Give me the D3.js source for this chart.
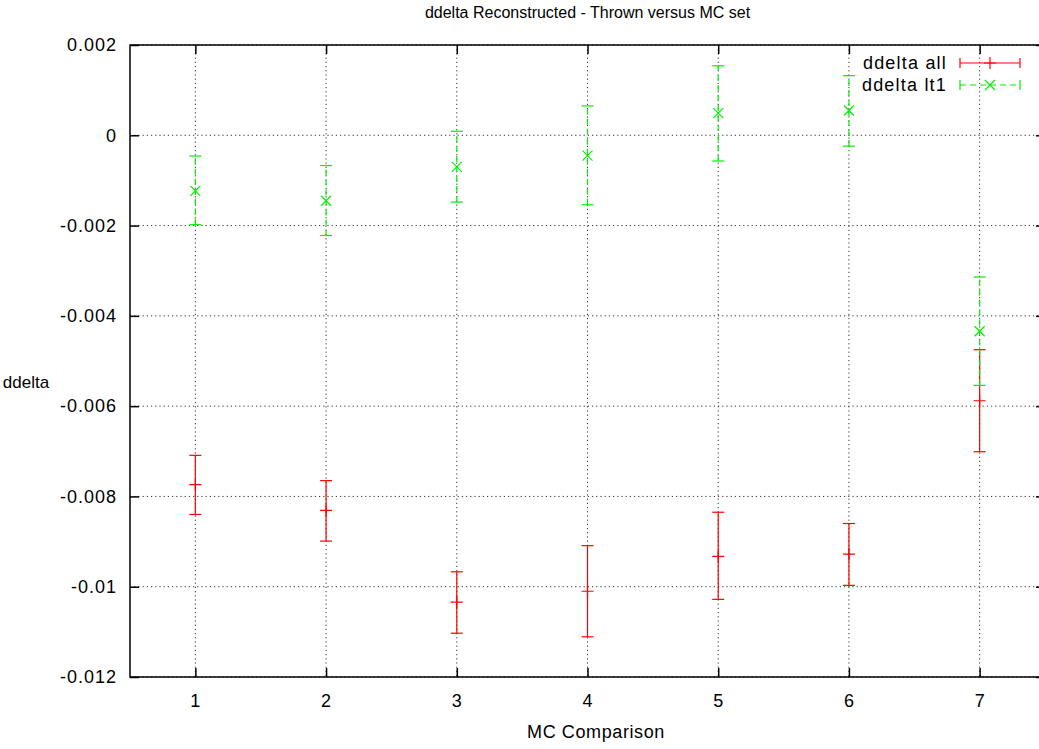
<!DOCTYPE html>
<html lang="en">
<head>
  <meta charset="utf-8">
  <title>ddelta Reconstructed - Thrown versus MC set</title>
  <script src="https://d3js.org/d3.v7.min.js"></script>
  <style>
    body { margin: 0; background: white; }
    text { font-family: "Liberation Sans", Arial, sans-serif; fill: #000; }
  </style>
</head>
<body>
<svg id="chart" width="1039" height="749"></svg>
<script>
  // MC comparison index
  var mcSets = [1, 2, 3, 4, 5, 6, 7];

  // ddelta all: value, low, high
  var allVal  = [-0.00774, -0.00831, -0.01034, -0.01010, -0.00933, -0.00928, -0.00588];
  var allLow  = [-0.00840, -0.00899, -0.01103, -0.01111, -0.01028, -0.00997, -0.00701];
  var allHigh = [-0.00709, -0.00765, -0.00967, -0.00909, -0.00835, -0.00860, -0.00475];

  // ddelta lt1: value, low, high
  var lt1Val  = [-0.00123, -0.00145, -0.00070, -0.00045, 0.00049, 0.00055, -0.00434];
  var lt1Low  = [-0.00198, -0.00222, -0.00148, -0.00154, -0.00057, -0.00024, -0.00554];
  var lt1High = [-0.00046, -0.00067, 0.00009, 0.00065, 0.00154, 0.00132, -0.00314];

  var yTicks = [0.002, 0, -0.002, -0.004, -0.006, -0.008, -0.01, -0.012];

  var svg = d3.select("#chart"),
      pLeft = 130, pRight = 1045, pTop = 45, pBottom = 677;

  var x = d3.scaleLinear().domain([0.5, 7.5]).range([pLeft, pRight]);
  var y = d3.scaleLinear().domain([-0.012, 0.002]).range([pBottom, pTop]);

  // grid
  var grid = svg.append("g")
      .attr("stroke", "#000")
      .attr("stroke-width", 1)
      .attr("stroke-dasharray", "1.2,3")
      .attr("opacity", 0.8);
  grid.selectAll(".gy").data(yTicks).enter().append("line")
      .attr("x1", pLeft).attr("x2", pRight)
      .attr("y1", function(d) { return y(d); })
      .attr("y2", function(d) { return y(d); });
  grid.selectAll(".gx").data(mcSets).enter().append("line")
      .attr("y1", pTop).attr("y2", pBottom)
      .attr("x1", function(d) { return x(d); })
      .attr("x2", function(d) { return x(d); });

  // axes with inward ticks on all four sides
  var fmt = function(d) { return d === 0 ? "0" : String(+d.toFixed(3)); };

  svg.append("g")
      .attr("transform", "translate(" + pLeft + ",0)")
      .call(d3.axisLeft(y).tickValues(yTicks).tickSizeInner(-9).tickSizeOuter(0).tickPadding(13).tickFormat(fmt));
  svg.append("g")
      .attr("transform", "translate(" + pRight + ",0)")
      .call(d3.axisRight(y).tickValues(yTicks).tickSizeInner(-9).tickSizeOuter(0).tickFormat(""));
  svg.append("g")
      .attr("transform", "translate(0," + pBottom + ")")
      .call(d3.axisBottom(x).tickValues(mcSets).tickSizeInner(-9).tickSizeOuter(0).tickPadding(17).tickFormat(d3.format("d")));
  svg.append("g")
      .attr("transform", "translate(0," + pTop + ")")
      .call(d3.axisTop(x).tickValues(mcSets).tickSizeInner(-9).tickSizeOuter(0).tickFormat(""));

  svg.selectAll(".tick text")
      .attr("font-size", "18px")
      .attr("letter-spacing", "1px")
      .attr("font-family", "Liberation Sans, Arial, sans-serif");
  svg.selectAll(".tick line").attr("stroke-width", 1.5);
  svg.selectAll(".domain").remove();

  svg.append("rect")
      .attr("x", pLeft).attr("y", pTop)
      .attr("width", pRight - pLeft).attr("height", pBottom - pTop)
      .attr("fill", "none").attr("stroke", "#000").attr("stroke-width", 1.5);

  // error bars
  function drawSeries(vals, lows, highs, color, dash, marker) {
    var g = svg.append("g").attr("stroke", color).attr("fill", "none").attr("stroke-width", 1.2);
    var rows = mcSets.map(function(m, i) { return { m: m, v: vals[i], lo: lows[i], hi: highs[i] }; });
    var s = g.selectAll("g").data(rows).enter().append("g");
    s.append("line")
        .attr("x1", function(d) { return x(d.m); }).attr("x2", function(d) { return x(d.m); })
        .attr("y1", function(d) { return y(d.lo); }).attr("y2", function(d) { return y(d.hi); })
        .attr("stroke-dasharray", dash);
    ["lo", "hi"].forEach(function(k) {
      s.append("line")
          .attr("x1", function(d) { return x(d.m) - 6; }).attr("x2", function(d) { return x(d.m) + 6; })
          .attr("y1", function(d) { return y(d[k]); }).attr("y2", function(d) { return y(d[k]); });
    });
    s.append("path")
        .attr("transform", function(d) { return "translate(" + x(d.m) + "," + y(d.v) + ")"; })
        .attr("d", marker);
  }
  var plus = "M-6,0H6M0,-6V6";
  var cross = "M-5,-5L5,5M-5,5L5,-5";
  drawSeries(allVal, allLow, allHigh, "#ff0000", null, plus);
  drawSeries(lt1Val, lt1Low, lt1High, "#00f000", "6,4", cross);

  // legend
  var legend = [
    { name: "ddelta all", color: "#ff0000", dash: null, marker: plus, y: 63 },
    { name: "ddelta lt1", color: "#00f000", dash: "6,4", marker: cross, y: 85 }
  ];
  var lg = svg.append("g");
  legend.forEach(function(d) {
    lg.append("text").attr("x", 947).attr("y", d.y + 6).attr("text-anchor", "end")
        .attr("font-size", "18px").attr("letter-spacing", "1.2px").text(d.name);
    var item = lg.append("g").attr("stroke", d.color).attr("fill", "none").attr("stroke-width", 1.2);
    item.append("line").attr("x1", 960).attr("x2", 1020).attr("y1", d.y).attr("y2", d.y)
        .attr("stroke-dasharray", d.dash);
    item.append("line").attr("x1", 960).attr("x2", 960).attr("y1", d.y - 5).attr("y2", d.y + 5);
    item.append("line").attr("x1", 1020).attr("x2", 1020).attr("y1", d.y - 5).attr("y2", d.y + 5);
    item.append("path").attr("transform", "translate(990," + d.y + ")").attr("d", d.marker);
  });

  // labels
  svg.append("text").attr("x", (pLeft + pRight) / 2).attr("y", 18).attr("text-anchor", "middle")
      .attr("font-size", "16px").text("ddelta Reconstructed - Thrown versus MC set");
  svg.append("text").attr("x", 596).attr("y", 738).attr("text-anchor", "middle")
      .attr("font-size", "18px").attr("letter-spacing", "0.6px").text("MC Comparison");
  svg.append("text").attr("x", 26).attr("y", 388).attr("text-anchor", "middle")
      .attr("font-size", "17px").text("ddelta");
</script>
</body>
</html>
